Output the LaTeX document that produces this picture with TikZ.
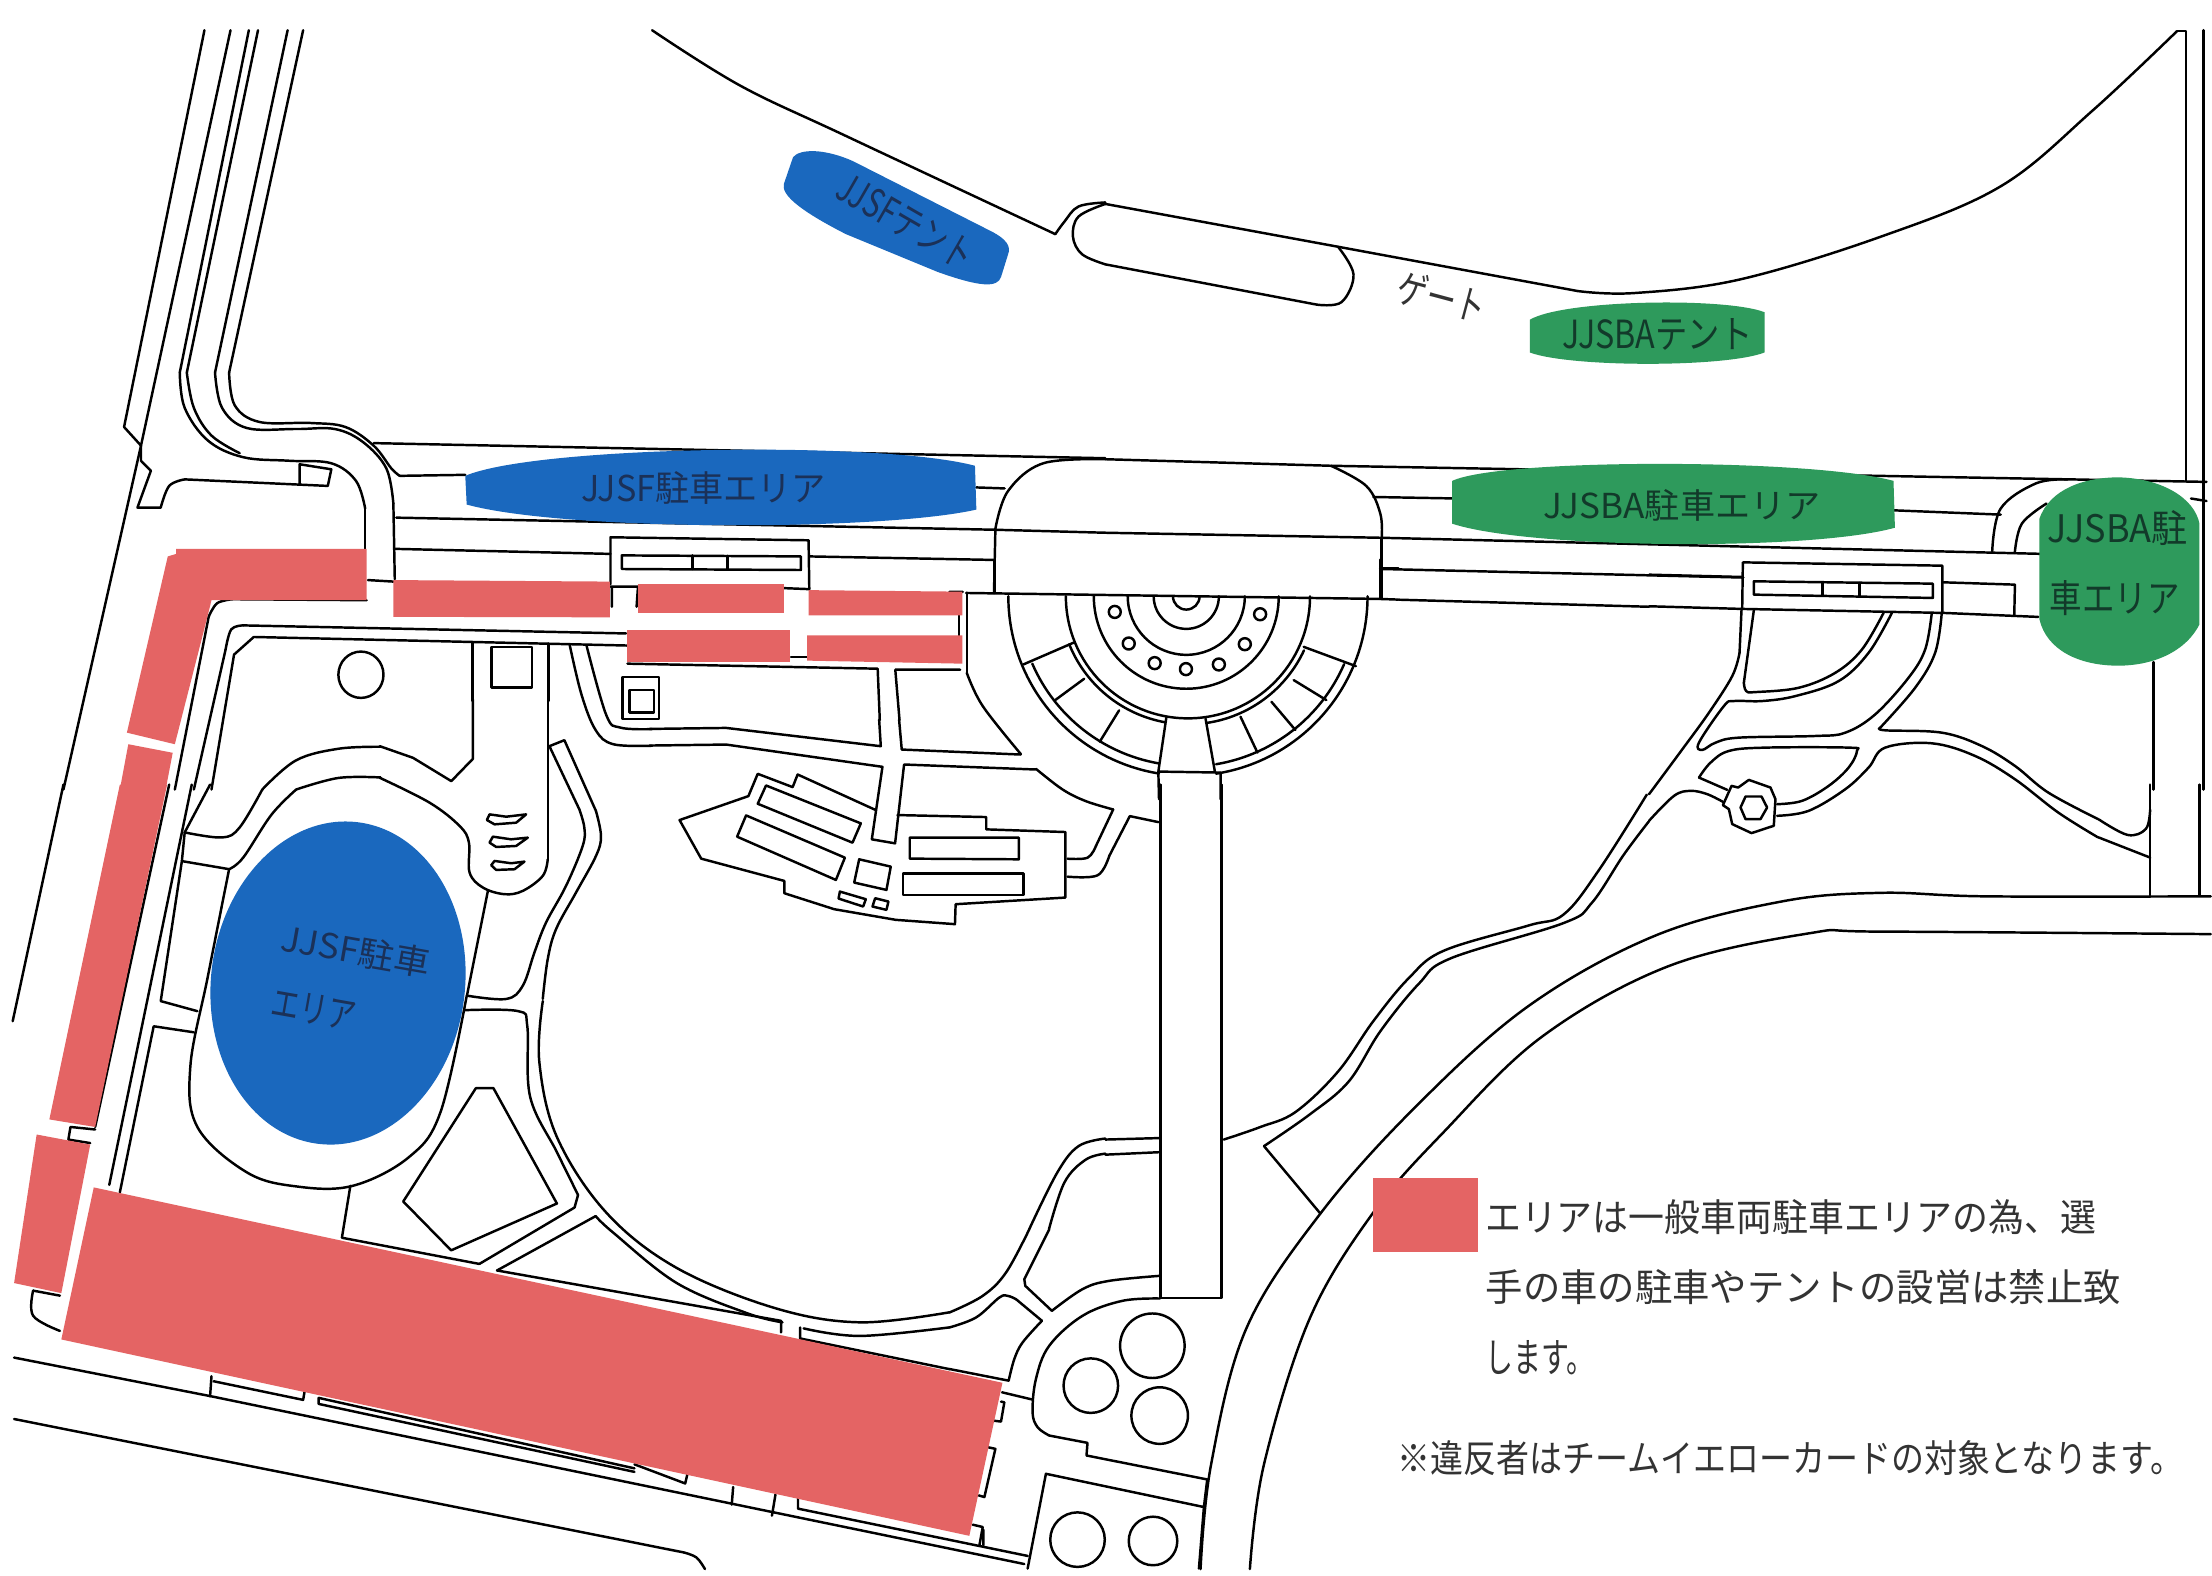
\documentclass[tikz,border=0pt]{standalone}
\usepackage{fontspec}
\usepackage{graphicx}
\newfontfamily\jp{Noto Sans CJK JP}
\definecolor{mapred}{HTML}{E46464}
\definecolor{mapblue}{HTML}{1A68BE}
\definecolor{mapgreen}{HTML}{2E9A5C}
\definecolor{inkblue}{HTML}{1B3158}
\definecolor{inkgreen}{HTML}{123A2A}
\definecolor{ink}{HTML}{333333}
\tikzset{
  ln/.style={draw=black,line width=0.7pt,line join=round,line cap=round},
  zi/.style 2 args={x=0.0033333cm,y=-0.0033333cm,shift={(#1*0.01cm,-#2*0.01cm)}},
  qz/.style 2 args={x=0.00705357cm,y=-0.00503827cm,shift={(#1*0.01cm,-#2*0.01cm)}},
  lab/.style={inner sep=0pt,outer sep=0pt,anchor=center},
}
\newcommand\cv[1]{\draw[ln] plot[smooth,tension=.6] coordinates {#1};}
\newcommand\fitt[3]{\resizebox{#1cm}{#2cm}{\jp #3}}
\begin{document}
\begin{tikzpicture}
\useasboundingbox (0,0) rectangle (22.12,-15.75);
\fill[white] (0,0) rectangle (22.12,-15.75);

% ---------- quadrant 1 lines
\begin{scope}[qz={0}{0}]
\draw[ln] (290,60)--(176,848)--(200,885)--(200,915)--(214,935)--(195,1008)--(228,1008);
\cv{(228,1008)(240,965)(262,952)}
\draw[ln] (262,952)--(465,965)--(470,932)--(425,922)--(425,960);
\draw[ln] (327,60)--(200,885)--(90,1568);
\draw[ln] (353,60)--(255,740);
\cv{(255,740)(262,810)(295,875)(345,908)(410,915)(470,920)(505,955)(518,1010)}
\draw[ln] (518,1010)--(518,1090);
\draw[ln] (366,60)--(265,740);
\cv{(265,740)(275,810)(300,865)(340,900)}
\draw[ln] (408,60)--(305,740);
\cv{(305,740)(315,810)(350,850)(420,852)(475,852)(515,878)(548,930)(558,1000)}
\draw[ln] (558,1000)--(560,1150);
\draw[ln] (430,60)--(325,740);
\cv{(325,740)(333,805)(368,838)(440,840)(490,848)(530,885)(555,930)(567,945)}
\draw[ln] (567,945)--(660,943) (1385,968)--(1425,970);
\draw[ln] (530,880)--(1568,910);
\draw[ln] (562,1028)--(1410,1052)--(1568,1058);
\draw[ln] (560,1090)--(866,1100) (1148,1105)--(1410,1112);
\draw[ln] (522,1152)--(558,1155) (866,1165)--(905,1165)--(903,1205) (868,1165)--(868,1205) (1112,1168)--(1148,1170);
\draw[ln] (866,1160)--(866,1067)--(1147,1073)--(1148,1170);
\draw[ln] (882,1103)--(1136,1105)--(1136,1132)--(882,1130)--cycle;
\draw[ln] (982,1103)--(982,1130) (1032,1104)--(1032,1131);
\draw[ln] (1410,1178)--(1412,1050);
\cv{(1412,1050)(1430,975)(1480,920)(1568,912)}
% top edge and gate
\cv{(925,60)(1050,170)(1200,270)(1497,465)}
\cv{(1497,465)(1510,440)(1530,410)(1568,402)}
\cv{(1568,405)(1530,430)(1522,470)(1535,505)(1568,525)}
% west paths
\draw[ln] (520,1192)--(330,1190);
\cv{(330,1190)(308,1198)(296,1225)}
\draw[ln] (296,1225)--(248,1568);
\draw[ln] (345,1242)--(888,1258);
\cv{(345,1242)(328,1250)(320,1290)}
\draw[ln] (320,1290)--(275,1568);
\draw[ln] (360,1265)--(890,1282);
\draw[ln] (360,1265)--(332,1300)--(300,1568);
\draw[ln] (697,1285)--(755,1285)--(755,1365)--(697,1365)--cycle;
\draw[ln] (670,1275)--(670,1392) (778,1278)--(778,1392);
\draw[ln] (883,1345)--(935,1345)--(935,1428)--(883,1428)--cycle;
\draw[ln] (893,1370)--(928,1370)--(928,1415)--(893,1415)--cycle;
\draw[ln] (512,1340) ellipse[x radius=32,y radius=46];
\cv{(832,1282)(860,1420)(880,1445)(925,1448)}
\cv{(808,1280)(825,1380)(845,1450)(870,1478)(925,1481)}
\draw[ln] (890,1318)--(1245,1328)--(1248,1430);
\draw[ln] (1270,1330)--(1362,1330) (1270,1330)--(1276,1430);
\draw[ln] (1360,1222)--(1360,1262) (1122,1305)--(1145,1305);
\cv{(372,1568)(420,1510)(480,1487)(540,1483)}
\cv{(420,1568)(480,1545)(540,1544)}
\end{scope}

% ---------- quadrant 2 lines
\begin{scope}[qz={1106}{0}]
\draw[ln] (0,405)--(330,490)--(670,578);
\cv{(670,578)(750,582)(900,555)(1100,470)(1270,370)(1400,220)(1520,62)}
\draw[ln] (1520,62)--(1533,62)--(1533,955);
\draw[ln] (1558,60)--(1558,1568);
\draw[ln] (0,525)--(300,605);
\cv{(300,605)(335,600)(352,545)(330,490)}
\draw[ln] (0,912)--(320,925)--(1562,957);
\cv{(320,925)(370,965)(390,1020)(392,1070)}
\draw[ln] (392,1070)--(392,1190);
\draw[ln] (380,987)--(500,990) (1110,1013)--(1270,1022);
\draw[ln] (0,1058)--(392,1068)--(1330,1100);
\draw[ln] (392,1130)--(905,1147);
\draw[ln] (417,1191)--(771,1205);
\draw[ln] (1540,990)--(1562,995);
\cv{(1258,1095)(1270,1010)(1320,960)(1365,952)}
\cv{(1290,1098)(1300,1040)(1335,1000)}
\draw[ln] (1487,1315)--(1487,1568);
\end{scope}

% ---------- quadrant 3 lines
\begin{scope}[qz={0}{785}]
\draw[ln] (90,0)--(18,470);
\draw[ln] (240,0)--(135,680);
\draw[ln] (272,0)--(155,795);
\draw[ln] (298,0)--(262,95);
\draw[ln] (262,95)--(258,152)--(228,430)--(280,450);
\cv{(372,10)(340,85)(315,105)(262,95)}
\cv{(258,152)(325,168)}
\cv{(420,10)(385,60)(345,145)(325,168)}
\cv{(325,168)(295,380)(270,560)(280,680)(350,770)(420,798)(500,797)(580,740)(625,650)(662,420)}
\draw[ln] (218,480)--(275,492) (218,480)--(170,810);
\draw[ln] (100,680)--(97,705) (100,680)--(135,685) (97,705)--(128,712);
\draw[ln] (47,1005)--(85,1015);
\cv{(47,1005)(47,1055)(85,1085)}
\draw[ln] (497,797)--(485,900)--(680,952);
\cv{(660,448)(735,450)(748,480)(752,620)(790,730)(820,815)}
\draw[ln] (820,815)--(815,840)--(680,952);
\draw[ln] (705,965)--(845,857);
\cv{(845,857)(870,890)(960,990)(1060,1050)(1110,1068)}
\draw[ln] (705,965)--(1108,1065)--(1108,1088);
\cv{(770,430)(765,550)(790,700)(860,850)(960,960)(1100,1040)(1220,1068)(1347,1048)}
\cv{(1140,1080)(1220,1095)(1347,1078)}
\draw[ln] (1135,1078)--(1135,1100)--(1347,1161);
\cv{(1460,883)(1500,770)(1530,718)(1568,703)}
\cv{(1488,883)(1510,790)(1540,745)(1568,733)}
\draw[ln] (675,603)--(700,603)--(790,832)--(640,925)--(572,828)--cycle;
\draw[ln] (20,1138)--(300,1215)--(1453,1548);
\draw[ln] (20,1260)--(970,1525);
\cv{(970,1525)(988,1535)(1000,1558)}
\draw[ln] (300,1175)--(298,1215);
\draw[ln] (303,1185)--(430,1222)--(433,1198);
\draw[ln] (452,1218)--(900,1358) (452,1218)--(452,1230)--(900,1365);
\draw[ln] (900,1350)--(972,1388)--(975,1370);
\draw[ln] (1040,1395)--(1038,1430) (1100,1410)--(1095,1452);
\draw[ln] (1132,1415)--(1132,1438)--(1458,1532) (1395,1510)--(1395,1480);
\end{scope}

% ---------- quadrant 4 lines
\begin{scope}[qz={1106}{785}]
\draw[ln] (78,0)--(78,1020)--(165,1020)--(165,0);
\draw[ln] (0,705)--(78,702) (0,735)--(78,730);
\cv{(168,705)(220,680)(270,650)(330,570)(380,470)(430,385)(480,330)(600,280)(650,258)(700,170)(768,20)}
\cv{(225,718)(290,655)(345,590)(390,490)(445,395)(490,345)(650,275)(690,235)(735,140)(771,73)}
\draw[ln] (225,718)--(305,852);
\cv{(135,1558)(150,1350)(200,1080)(305,852)(440,640)(600,440)(780,300)(960,232)(1100,215)(1250,222)(1568,222)}
\cv{(205,1558)(225,1350)(290,1060)(380,850)(480,690)(620,500)(800,360)(1000,295)(1100,292)(1568,297)}
\draw[ln] (1482,0)--(1482,220) (1552,0)--(1552,220);
\cv{(1409,69)(1450,100)(1476,88)(1482,50)}
\cv{(1409,105)(1482,145)}
\end{scope}

% ---------- fountain plaza
\begin{scope}[zi={950}{560}]
\draw[ln] (0,97)--(40,97) (50,100)--(1295,118)--(1350,120);
\draw[ln] (135,0)--(135,100) (1295,0)--(1295,118) (1295,27)--(1350,27);
\draw[ln] (52,100)--(52,340);
\cv{(52,340)(100,440)(215,585)}
\coordinate (fc) at (717,110);
\draw[ln] (fc) ++(-180:540) arc[start angle=-180,end angle=-260.7,radius=540];
\draw[ln] (fc) ++(-279:540) arc[start angle=-279,end angle=-360,radius=540];
\draw[ln] (fc) ++(-203.4:510) arc[start angle=-203.4,end angle=-260,radius=510];
\draw[ln] (fc) ++(-279.5:512) arc[start angle=-279.5,end angle=-336.5,radius=512];
\draw[ln] (fc) ++(-202:385) arc[start angle=-202,end angle=-259.7,radius=385];
\draw[ln] (fc) ++(-278.6:385) arc[start angle=-278.6,end angle=-335,radius=385];
\draw[ln] (fc) ++(-180:367) arc[start angle=-180,end angle=-360,radius=367];
\coordinate (fd) at (712,110);
\draw[ln] (fd) ++(-180:278) arc[start angle=-180,end angle=-360,radius=278];
\draw[ln] (fd) ++(-180:176) arc[start angle=-180,end angle=-360,radius=176];
\draw[ln] (fd) ++(-180:98) arc[start angle=-180,end angle=-360,radius=98];
\draw[ln] (fd) ++(-180:40) arc[start angle=-180,end angle=-360,radius=40];
\foreach \p in {(497,157),(539,252),(617,311),(711,329),(810,315),(888,254),(934,164)}
  \draw[ln] \p circle[radius=18];
\draw[ln] (222,315)--(372,250) (1065,262)--(1222,320) (318,422)--(405,358) (452,547)--(510,453)
  (926,580)--(875,472) (1040,512)--(968,427) (1133,422)--(1035,362);
\draw[ln] (652,475)--(628,637)--(630,720) (770,478)--(798,637) (628,637)--(815,640)--(815,720);
\end{scope}

% ---------- building complex
\begin{scope}[zi={650}{720}]
\draw[ln] (0,28)--(230,25)--(695,80)--(690,0);
\draw[ln] (750,0)--(758,90)--(1115,105);
\draw[ln] (0,78)--(230,75)--(700,142)--(668,360)--(738,372)--(765,135)--(1160,150);
\draw[ln] (680,272)--(445,165)--(430,203)--(325,163)--(297,230)--(90,302)--(155,418)--(405,485)--(405,522)--(555,570)--(740,602)--(918,615)--(920,555)--(1250,535)--(1250,338)--(1012,330)--(1012,293)--(745,287);
\draw[ln] (350,198)--(635,312)--(610,370)--(325,253)--cycle;
\draw[ln] (290,288)--(587,415)--(560,482)--(263,352)--cycle;
\draw[ln] (630,420)--(725,442)--(712,512)--(615,490)--cycle;
\draw[ln] (572,517)--(650,540)--(642,562)--(568,538)--cycle;
\draw[ln] (678,537)--(718,547)--(712,572)--(670,562)--cycle;
\draw[ln] (782,355)--(1110,355)--(1110,420)--(782,418)--cycle;
\draw[ln] (762,463)--(1124,463)--(1124,528)--(762,528)--cycle;
\end{scope}
\begin{scope}[zi={1000}{760}]
\cv{(110,28)(190,90)(260,125)(342,150)}
\draw[ln] (342,150)--(290,260);
\cv{(290,260)(265,295)(205,298)}
\draw[ln] (478,188)--(392,170)--(330,290);
\cv{(330,290)(295,348)(205,352)}
\end{scope}

% ---------- oval entrance
\begin{scope}[zi={380}{700}]
\draw[ln] (0,140)--(100,175)--(215,245)--(280,178)--(280,0);
\draw[ln] (505,0)--(505,480);
\cv{(505,480)(490,530)(430,575)(375,585)(310,565)(270,520)(268,430)(240,380)(150,310)(0,235)}
\draw[ln] (440,345)--(410,370)--(345,375)--(322,362)--(330,345)--(380,352)--cycle;
\draw[ln] (445,415)--(410,440)--(350,443)--(330,430)--(340,412)--(395,420)--cycle;
\draw[ln] (435,487)--(405,510)--(350,512)--(335,498)--(345,485)--(395,492)--cycle;
\draw[ln] (325,575)--(262,890);
\cv{(262,890)(380,900)(430,860)(465,760)(500,670)(560,560)(610,440)(615,385)(600,330)}
\draw[ln] (600,330)--(510,140)--(555,122)--(650,335);
\cv{(650,335)(665,410)(650,470)(590,580)(530,690)(505,780)(490,900)}
\end{scope}

% ---------- east junction
\begin{scope}[zi={1650}{560}]
\draw[ln] (0,45)--(280,52) (885,68)--(1100,75)--(1098,165);
\draw[ln] (0,140)--(280,148)--(885,160)--(1170,172);
\draw[ln] (280,148)--(282,8)--(882,18)--(882,160);
\draw[ln] (315,65)--(853,72)--(853,115)--(315,105)--cycle;
\draw[ln] (522,70)--(522,105) (632,70)--(632,110);
\draw[ln] (278,150)--(272,280);
\cv{(272,280)(250,350)(180,460)(100,570)(0,705)}
\draw[ln] (315,152)--(285,370);
\cv{(285,370)(292,395)(320,398)(450,385)(560,340)(640,270)(705,160)}
\cv{(730,160)(660,280)(570,365)(440,410)(340,425)(255,425)(225,440)(150,550)(160,572)(200,550)(270,535)(500,530)(590,520)(680,465)(780,355)(830,270)(850,160)}
\cv{(880,160)(860,280)(800,385)(695,505)}
\cv{(695,505)(710,513)(880,520)(1000,560)(1100,620)(1200,700)(1350,780)}
\cv{(1350,835)(1230,760)(1100,660)(980,590)(850,552)(710,565)(660,625)(590,690)(480,755)(385,770)}
\cv{(150,655)(185,610)(240,575)(350,565)(600,565)(625,575)(600,625)(540,680)(460,725)(385,735)}
\draw[ln] (150,655)--(235,692);
\cv{(0,785)(75,710)(125,695)(175,705)(222,728)}
\draw[ln] (300,662)--(365,685)--(380,720)--(375,800)--(308,822)--(250,795)--(240,750)--(222,738)--(248,680)--(268,685)--cycle;
\draw[ln] (275,745)--(290,712)--(338,712)--(355,745)--(335,780)--(290,780)--cycle;
\end{scope}

% ---------- southeast garden
\begin{scope}[zi={950}{1230}]
\cv{(0,250)(100,200)(170,130)(240,0)}
\draw[ln] (300,0)--(225,150)--(228,170)--(308,245);
\cv{(308,245)(400,180)(480,155)(630,140)}
\cv{(0,295)(80,265)(150,205)(175,200)(200,210)}
\draw[ln] (200,210)--(278,275);
\cv{(278,275)(220,340)(195,390)(178,455)}
\draw[ln] (178,455)--(0,420);
\cv{(633,208)(520,215)(400,260)(300,350)(260,450)(250,550)(265,595)(300,620)}
\draw[ln] (300,620)--(415,642)--(412,680)--(775,752);
\draw[ln] (775,752)--(765,835)--(290,735)--(235,1020);
\draw[ln] (765,835)--(750,1020);
\draw[ln] (158,490)--(250,512);
\draw[ln] (155,518)--(165,520)--(155,578)--(130,575);
\draw[ln] (115,655)--(138,660)--(105,805)--(88,800);
\draw[ln] (70,888)--(100,895)--(90,950);
\foreach \p/\r in {(610,350)/97,(425,470)/82,(632,560)/85,(385,933)/82,(612,937)/73}
  \draw[ln] \p circle[radius=\r];
\end{scope}

% ---------- coloured areas
\begin{scope}[qz={0}{0}]
\fill[mapred] (250,1090)--(520,1090)--(520,1192)--(300,1192)--(296,1215)--(248,1478)--(180,1455)--(238,1105)--(250,1100)--cycle;
\fill[mapred] (182,1478)--(245,1495)--(235,1568)--(170,1568)--cycle;
\fill[mapred] (558,1152)--(865,1155)--(865,1226)--(558,1225)--cycle;
\fill[mapred] (905,1160)--(1112,1160)--(1112,1218)--(905,1218)--cycle;
\fill[mapred] (1147,1172)--(1365,1175)--(1365,1222)--(1147,1222)--cycle;
\fill[mapred] (890,1252)--(1120,1252)--(1120,1315)--(890,1315)--cycle;
\fill[mapred] (1145,1262)--(1365,1262)--(1365,1318)--(1145,1312)--cycle;
\fill[mapblue] (1125,312) .. controls (1135,295) and (1170,295) .. (1210,320) -- (1400,455) .. controls (1430,475) and (1434,490) .. (1430,505) -- (1420,550) .. controls (1415,572) and (1390,570) .. (1330,540) -- (1200,465) .. controls (1130,415) and (1108,385) .. (1112,365) -- cycle;
\fill[mapblue] (660,945) .. controls (760,885) and (1250,875) .. (1383,925) -- (1385,1012) .. controls (1250,1055) and (800,1055) .. (662,1002) -- cycle;
\node[lab,rotate=-30,text=inkblue] (tentF) at (1285,440) {\fitt{1.5}{0.31}{JJSFテント}};
\node[lab,text=inkblue] (parkF) at (998,970) {\fitt{2.45}{0.30}{JJSF駐車エリア}};
\end{scope}
\begin{scope}[qz={1106}{0}]
\fill[mapgreen] (602,635) .. controls (650,595) and (880,590) .. (935,620) -- (935,700) .. controls (880,730) and (660,730) .. (602,700) -- cycle;
\fill[mapgreen] (492,955) .. controls (560,910) and (1000,910) .. (1118,955) -- (1120,1048) .. controls (1000,1095) and (600,1090) .. (492,1040) -- cycle;
\fill[mapgreen] (1325,1030) .. controls (1340,970) and (1390,948) .. (1437,948) .. controls (1500,950) and (1545,990) .. (1552,1040) -- (1552,1240) .. controls (1530,1300) and (1480,1322) .. (1437,1322) .. controls (1380,1322) and (1335,1290) .. (1325,1230) -- cycle;
\node[lab,rotate=-15,text=ink] (gate) at (478,590) {\fitt{0.9}{0.33}{ゲート}};
\node[lab,text=inkgreen] (tentB) at (783,665) {\fitt{1.9}{0.30}{JJSBAテント}};
\node[lab,text=inkgreen] (parkB) at (818,1003) {\fitt{2.77}{0.29}{JJSBA駐車エリア}};
\node[lab,text=inkgreen] (parkC1) at (1436,1048) {\fitt{1.40}{0.32}{JJSBA駐}};
\node[lab,text=inkgreen] (parkC2) at (1432,1187) {\fitt{1.30}{0.32}{車エリア}};
\end{scope}
\begin{scope}[qz={0}{785}]
\fill[mapred] (170,0)--(237,0)--(135,680)--(70,665)--cycle;
\fill[mapred] (52,695)--(128,715)--(87,1010)--(20,990)--cycle;
\fill[mapred] (133,800)--(1422,1188)--(1375,1492)--(87,1102)--cycle;
\end{scope}
\fill[mapblue,rotate around={-7:(3.38,-9.83)}] (3.38,-9.83) ellipse[x radius=1.27,y radius=1.62];
\begin{scope}[qz={0}{785}]
\node[lab,rotate=-10,text=inkblue] (parkD1) at (505,330) {\fitt{1.5}{0.29}{JJSF駐車}};
\node[lab,rotate=-10,text=inkblue] (parkD2) at (445,447) {\fitt{0.85}{0.29}{エリア}};
\end{scope}
\begin{scope}[qz={1106}{785}]
\fill[mapred] (380,782) rectangle (528,928);
\node[lab,text=ink] (note1) at (972,858) {\fitt{6.11}{0.32}{エリアは一般車両駐車エリアの為、選}};
\node[lab,text=ink] (note2) at (990,997) {\fitt{6.35}{0.32}{手の車の駐車やテントの設営は禁止致}};
\node[lab,text=ink] (note3) at (617,1138) {\fitt{1.09}{0.32}{します。}};
\node[lab,text=ink] (note4) at (972,1338) {\fitt{7.86}{0.32}{※違反者はチームイエローカードの対象となります。}};
\end{scope}
\end{tikzpicture}
\end{document}
